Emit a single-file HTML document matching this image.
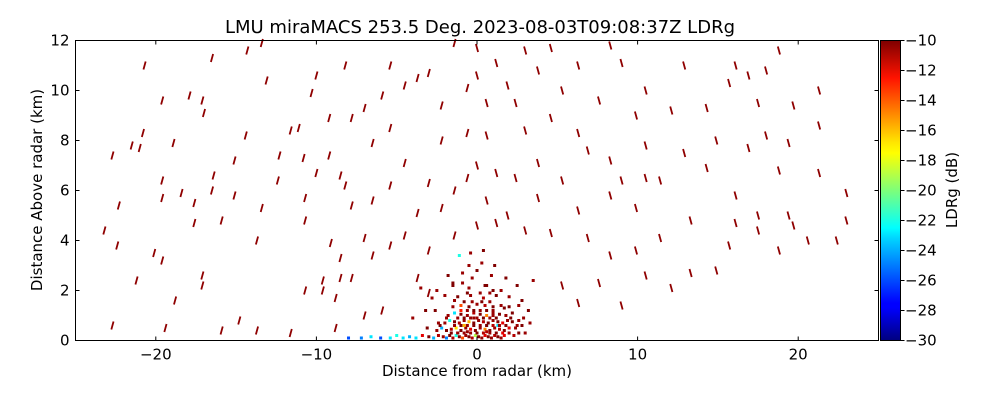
<!DOCTYPE html>
<html><head><meta charset="utf-8">
<style>
body{margin:0;background:#fff;}
svg text{font-family:"DejaVu Sans","Liberation Sans",sans-serif;fill:#000;}
</style></head>
<body>
<svg id="chart" width="1000" height="400" viewBox="0 0 1000 400" xmlns="http://www.w3.org/2000/svg">
<defs>
<linearGradient id="jet" x1="0" y1="1" x2="0" y2="0">
<stop offset="0" stop-color="#00007f"/><stop offset="0.11" stop-color="#0000ff"/>
<stop offset="0.125" stop-color="#0000ff"/><stop offset="0.34" stop-color="#00d4ff"/>
<stop offset="0.375" stop-color="#00ffff"/><stop offset="0.5" stop-color="#7dff7a"/>
<stop offset="0.625" stop-color="#ffff00"/><stop offset="0.66" stop-color="#ffe600"/>
<stop offset="0.875" stop-color="#ff1300"/><stop offset="1" stop-color="#7f0000"/>
</linearGradient>
</defs>
<text x="480" y="33" font-size="18" text-anchor="middle">LMU miraMACS 253.5 Deg. 2023-08-03T09:08:37Z  LDRg</text>
<g id="marks"></g>
<rect x="75.5" y="40.5" width="803" height="300" fill="none" stroke="#000" stroke-width="1"/>
<g id="axes"></g>
<rect x="880.5" y="40.5" width="20" height="300" fill="url(#jet)" stroke="#000" stroke-width="1"/>
<g id="cbticks"></g>
<text x="477" y="376" font-size="15" text-anchor="middle">Distance from radar (km)</text>
<text x="0" y="0" font-size="15" text-anchor="middle" transform="translate(42,190) rotate(-90)">Distance Above radar  (km)</text>
<text x="0" y="0" font-size="15" text-anchor="middle" transform="translate(957,190) rotate(-90)">LDRg (dB)</text>
</svg>
<script>
const xTicks=[-20,-10,0,10,20];
const yTicks=[0,2,4,6,8,10,12];
const cbTicks=[-10,-12,-14,-16,-18,-20,-22,-24,-26,-28,-30];
const dashX=[-22.7,-22.7,-22.4,-22.3,-23.2,-21.2,-20.1,-21.5,-21.0,-20.8,-20.7,-19.6,-19.6,-19.6,-19.6,-19.4,-18.8,-18.4,-18.9,-17.9,-17.6,-17.6,-17.1,-17.1,-17.1,-17.0,-16.5,-16.5,-16.4,-15.9,-15.9,-15.1,-15.1,-14.8,-14.4,-14.3,-13.7,-13.7,-13.4,-13.4,-13.1,-12.4,-12.3,-11.6,-11.6,-11.1,-10.8,-10.7,-10.7,-10.7,-10.3,-10.0,-10.0,-9.6,-9.6,-9.2,-9.2,-9.1,-8.8,-8.8,-8.5,-8.5,-8.5,-8.2,-8.2,-7.8,-7.8,-7.8,-7.0,-7.0,-7.0,-6.5,-6.5,-6.5,-5.9,-5.9,-5.4,-5.4,-5.4,-5.4,-4.5,-4.5,-4.5,-3.7,-3.7,-3.7,-3.0,-3.0,-3.0,-3.0,-2.2,-2.2,-2.2,-1.4,-1.4,-1.4,-0.6,-0.6,-0.6,0,0,0,0,0.6,0.6,0.6,1.2,1.2,1.2,1.9,1.9,2.4,2.4,3.0,3.0,3.0,3.8,3.8,3.8,4.6,4.6,4.6,5.3,5.3,5.3,6.3,6.3,6.3,6.3,6.9,6.9,7.6,7.6,8.3,8.3,8.3,8.3,9.0,9.0,9.0,9.9,9.9,9.9,10.5,10.5,10.5,10.5,11.4,11.4,12.1,12.1,12.9,12.9,13.3,13.3,14.3,14.3,14.9,14.9,15.7,15.7,16.1,16.1,16.1,16.9,16.9,17.5,17.5,17.5,18.0,18.0,18.8,18.8,18.8,19.4,19.4,19.7,19.7,20.6,21.3,21.3,21.3,22.4,23.0,23.0];
const dashY=[0.6,7.4,3.8,5.4,4.4,2.4,3.5,7.8,7.7,8.3,11.0,9.6,6.4,5.7,3.2,0.5,1.6,5.9,7.9,9.8,4.7,5.5,2.6,2.2,9.6,9.1,11.3,6.0,6.6,4.8,0.4,7.2,5.8,0.8,8.2,11.6,4.0,0.4,5.3,11.9,10.4,6.4,7.4,8.4,0.3,8.5,7.3,5.7,4.8,2.0,9.9,10.6,6.7,2.4,2.0,7.4,8.9,3.9,1.7,0.5,3.3,2.5,6.6,11.0,6.2,8.9,5.4,2.5,4.1,1.0,9.3,7.9,5.6,3.4,9.8,1.2,11.0,8.5,6.2,3.8,4.2,7.1,10.2,10.5,2.5,5.1,10.7,6.3,3.6,1.9,8.0,5.3,9.4,11.9,4.2,6.0,10.1,8.3,6.5,11.7,10.6,7.0,4.6,9.5,8.2,5.6,11.1,6.7,4.7,10.2,5.0,9.5,6.5,11.6,4.4,8.4,10.8,7.1,5.7,11.7,8.9,4.3,10.0,6.4,2.2,11.0,8.3,5.2,1.5,7.6,4.1,9.6,2.3,11.8,7.2,5.8,3.4,11.1,6.4,1.4,9.0,3.6,5.3,10.0,7.8,6.5,2.6,6.4,4.1,9.2,2.1,11.0,7.5,4.8,2.7,6.9,9.3,2.8,8.0,10.3,3.8,11.0,4.7,5.8,7.7,10.6,9.5,5.0,4.4,10.8,8.2,11.6,6.8,3.6,7.9,5.0,4.6,9.4,4.0,10.0,8.6,6.7,4.0,5.9,4.8];
const dashV=dashX.map(()=>-10.3);
const clX=[-8.0,-7.2,-6.6,-6.0,-5.4,-5.0,-4.6,-4.2,-3.8,-3.4,-3.0,-2.7,-2.4,-2.1,-1.9,-1.7,-1.5,-1.3,-1.1,-0.9,-0.7,-0.5,-0.3,-0.1,0.1,0.3,0.5,0.7,0.9,1.1,1.3,1.5,1.7,2.0,2.3,2.6,3.0,-2.5,-2.2,-1.9,-1.6,-1.3,-1.0,-0.7,-0.4,-0.1,0.2,0.5,0.8,1.1,1.4,1.7,2.0,2.4,2.8,-2.0,-1.7,-1.4,-1.1,-0.8,-0.5,-0.2,0.1,0.4,0.7,1.0,1.3,1.6,1.9,2.2,2.6,-1.8,-1.4,-1.0,-0.6,-0.2,0.2,0.6,1.0,1.4,1.8,2.2,-1.5,-1.0,-0.5,0,0.5,1.0,1.5,2.0,2.6,3.2,-2.8,-2.0,-1.2,-0.4,0.4,1.2,2.0,2.8,-3.5,-2.5,-1.5,-0.5,0.5,1.5,2.5,3.5,-1.8,-0.9,0,0.9,1.8,-0.5,0.3,1.1,-1.1,-0.4,0.4,-4.0,-3.2,-2.4,-0.8,-0.2,0.6,1.3,-1.2,-0.6,0.0,0.6,1.0,-1.5,-0.3,0.8,
-1.6,-1.2,-0.8,-0.4,0.0,0.4,0.8,1.2,1.6,-1.4,-1.0,-0.6,-0.2,0.2,0.6,1.0,1.4,1.8,-1.2,-0.8,-0.4,0.0,0.4,0.8,1.2,-1.0,-0.6,-0.2,0.2,0.6,1.0,-0.8,-0.3,0.3,0.8,-2.3,-1.9,2.1,2.5,-2.6,2.9,-3.1,3.3,-0.6,0.2,1.0,-1.4,1.7,-0.9,0.6];
const clY=[0.1,0.1,0.15,0.1,0.1,0.2,0.1,0.15,0.1,0.2,0.15,0.1,0.2,0.15,0.1,0.2,0.1,0.2,0.15,0.1,0.2,0.15,0.1,0.2,0.15,0.1,0.2,0.15,0.1,0.2,0.15,0.1,0.2,0.3,0.2,0.3,0.3,0.4,0.5,0.4,0.45,0.5,0.4,0.5,0.45,0.4,0.5,0.45,0.4,0.5,0.45,0.4,0.5,0.5,0.6,0.7,0.8,0.75,0.7,0.8,0.75,0.7,0.8,0.75,0.7,0.8,0.75,0.7,0.8,0.75,0.8,1.0,1.1,1.05,1.0,1.1,1.05,1.0,1.1,1.05,1.0,1.1,1.35,1.4,1.35,1.45,1.4,1.35,1.4,1.35,1.4,1.2,1.7,1.8,1.75,1.8,1.7,1.8,1.75,1.6,2.1,2.0,2.2,2.1,2.2,2.0,2.2,2.4,2.6,2.7,2.8,2.6,2.5,3.0,3.1,3.0,3.4,3.5,3.6,0.9,1.2,0.7,0.6,0.9,0.6,0.6,0.3,0.35,0.3,0.35,1.0,2.3,2.5,1.9,
0.3,0.3,0.3,0.3,0.3,0.3,0.3,0.3,0.3,0.6,0.6,0.6,0.6,0.6,0.6,0.6,0.6,0.6,0.9,0.9,0.9,0.9,0.9,0.9,0.9,1.2,1.2,1.2,1.2,1.2,1.2,1.55,1.55,1.55,1.55,0.6,0.9,0.9,0.6,1.2,0.9,0.5,0.7,1.9,1.9,2.0,1.6,1.3,2.3,2.2];
const clV=[-26,-25,-23,-26,-23,-22,-23,-24,-23,-12,-10,-24,-11,-10.5,-25,-10,-11,-22,-10,-14,-10.5,-10,-11,-19,-10,-10.5,-12,-10,-10.5,-11,-10,-10.5,-12,-10.5,-11,-10,-10.5,-10.5,-24,-10,-11,-17,-10,-10.5,-12,-10,-10.5,-15,-10,-10.5,-11,-10,-12,-10.5,-10,-10.5,-22,-10,-11,-10.5,-16,-10,-10.5,-11,-10,-10.5,-10,-12,-10.5,-10,-10.5,-10.5,-23,-10,-10.5,-11,-10,-15,-10.5,-10,-10.5,-10,-10.5,-14,-10,-10.5,-11,-10,-10.5,-10,-10.5,-10,-10.5,-10.5,-10,-10.5,-11,-10,-10.5,-10,-10.5,-10.5,-10,-10.5,-10,-10.5,-10,-10.5,-10,-10.5,-10,-10.5,-10,-10.5,-10.5,-10,-22,-10.5,-10,-10.5,-10,-10.5,-16,-10.5,-24,-23,-12,-10.5,-10,-11,-10.5,-10,-10.5,-10.5,-10,-10.5,-10.5,
-10.5,-10,-11,-10.5,-10,-12,-10.5,-10,-10.5,-10,-10.5,-10,-11,-10.5,-10,-10.5,-10,-10.5,-10.5,-10,-10.5,-10,-13,-10.5,-10,-10.5,-10,-10.5,-10,-10.5,-10,-10.5,-10,-10.5,-10,-10.5,-10,-10.5,-10,-10.5,-10,-10.5,-10,-10.5,-10,-10.5,-10,-10.5,-10,-10.5];

const L=75.5,R=878.5,T=40.5,B=340.5,XMIN=-25,XMAX=25,YMIN=0,YMAX=12;
const sx=v=>L+(v-XMIN)/(XMAX-XMIN)*(R-L);
const sy=v=>B-(v-YMIN)/(YMAX-YMIN)*(B-T);
const cy=v=>T+(-10-v)/20*(B-T);
function jet(v){
  let t=Math.max(0,Math.min(1,(v+30)/20));
  const f=x=>Math.max(0,Math.min(1,1.5-Math.abs(4*t-x)));
  return `rgb(${Math.round(255*f(3))},${Math.round(255*f(2))},${Math.round(255*f(1))})`;
}
const NS='http://www.w3.org/2000/svg';
const marks=document.getElementById('marks');
function mk(tag,attrs,parent){const e=document.createElementNS(NS,tag);for(const k in attrs)e.setAttribute(k,attrs[k]);parent.appendChild(e);return e;}
dashX.forEach((x,i)=>{
  const px=sx(x),py=sy(dashY[i]);
  const s=x<0?1.1:-1.1;
  const e=mk('line',{x1:px-s,y1:py+4,x2:px+s,y2:py-4,stroke:jet(dashV[i]),'stroke-width':1.8},marks);
  
  
});
clX.forEach((x,i)=>{
  const e=mk('rect',{x:sx(x)-1.5,y:sy(clY[i])-1.5,width:3,height:3,fill:jet(clV[i])},marks);
  
  
});
const axes=document.getElementById('axes');
xTicks.forEach(v=>{
  const x=sx(v);
  mk('line',{x1:x,x2:x,y1:B,y2:B-4,stroke:'#000'},axes);
  mk('line',{x1:x,x2:x,y1:T,y2:T+4,stroke:'#000'},axes);
  const t=mk('text',{x:x,y:B+19,'font-size':15,'text-anchor':'middle'},axes);
  t.textContent=(v<0?'\u2212':'')+Math.abs(v);
  
  
});
yTicks.forEach(v=>{
  const y=sy(v);
  mk('line',{x1:L,x2:L+4,y1:y,y2:y,stroke:'#000'},axes);
  mk('line',{x1:R,x2:R-4,y1:y,y2:y,stroke:'#000'},axes);
  const t=mk('text',{x:L-6,y:y+5,'font-size':15,'text-anchor':'end'},axes);
  t.textContent=v;
  
  
});
const cbg=document.getElementById('cbticks');
cbTicks.forEach(v=>{
  const y=cy(v);
  mk('line',{x1:900.5,x2:904.5,y1:y,y2:y,stroke:'#000'},cbg);
  const t=mk('text',{x:905,y:y+5,'font-size':15,'text-anchor':'start'},cbg);
  t.textContent='\u2212'+Math.abs(v);
  
  
});
</script>
</body></html>
